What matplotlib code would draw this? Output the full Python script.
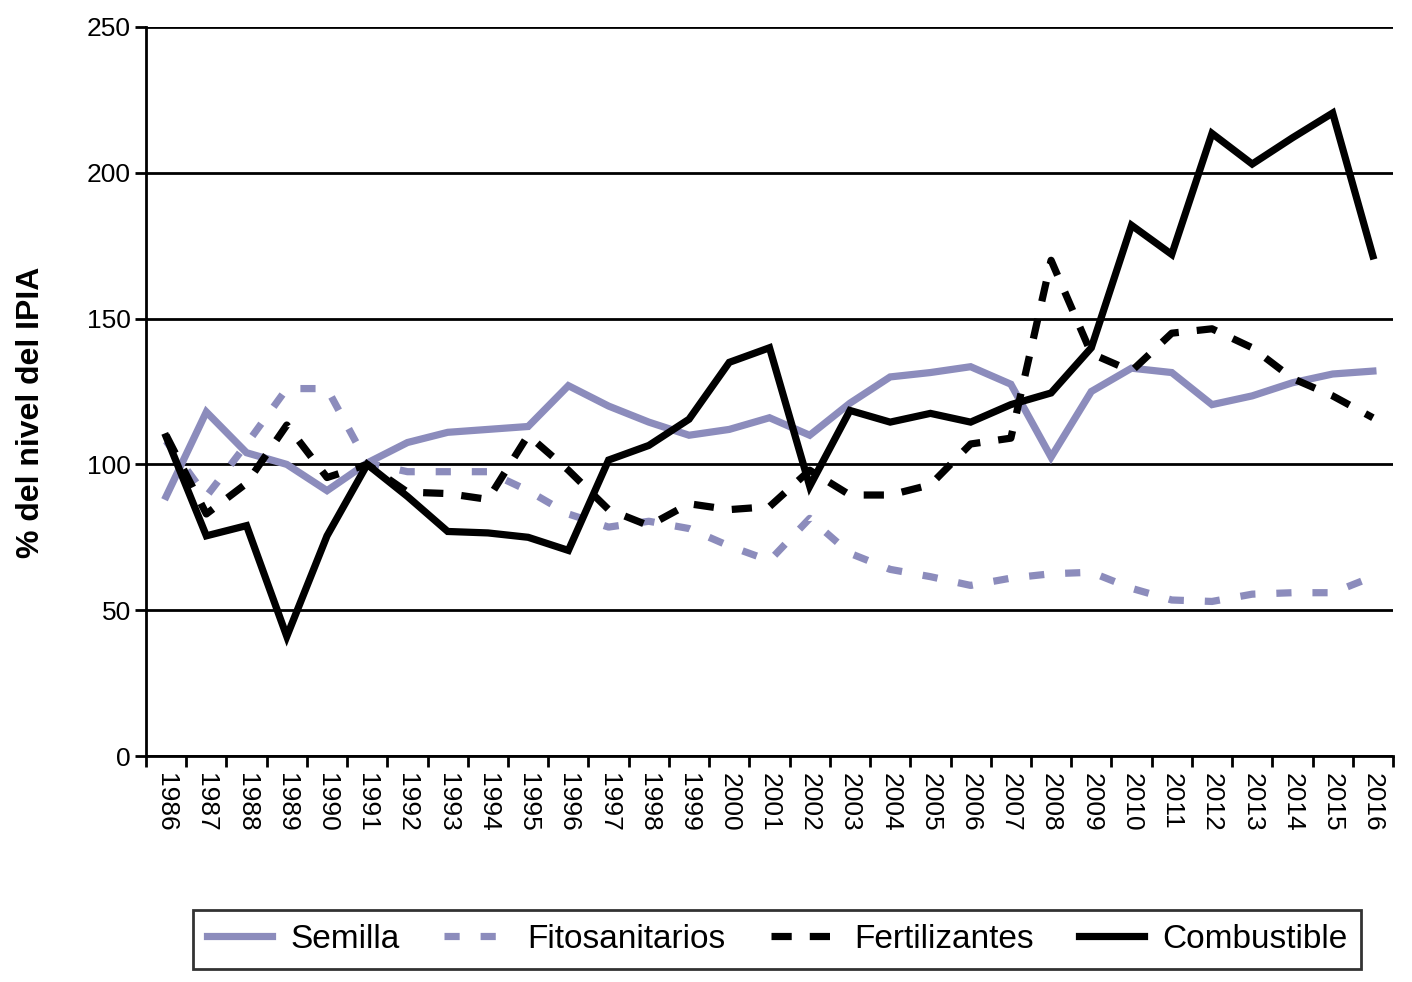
import matplotlib
matplotlib.use("Agg")
import matplotlib.pyplot as plt
import numpy as np

# ── Data ─────────────────────────────────────────────────────────────────
YEARS = [str(y) for y in range(1986, 2017)]

SEMILLA = [89, 118, 104, 100, 91, 100.5, 107.5, 111, 112, 113, 127, 120,
           114.5, 110, 112, 116, 110, 121, 130, 131.5, 133.5, 127.5,
           102.5, 125, 133, 131.5, 120.5, 123.5, 128, 131, 132]
FITOSANITARIOS = [108, 89, 107, 126, 126, 100.5, 97.5, 97.5, 97.5, 91, 83, 78.5,
                  80.5, 78, 72, 67, 81.5, 69.5, 64, 61.5, 58.5, 61,
                  62.5, 63, 57.5, 53.5, 53, 55.5, 56, 56, 61.5]
FERTILIZANTES = [110, 83, 93.5, 113.5, 95.5, 100, 90.5, 90, 88, 110, 98, 84.5,
                 79, 86.5, 84.5, 85.5, 98, 89.5, 89.5, 93, 107, 109,
                 170, 138, 132, 145, 146.5, 140, 129.5, 123.5, 116]
COMBUSTIBLE = [109.5, 75.5, 79, 41, 75.5, 100, 89, 77, 76.5, 75, 70.5, 101.5,
               106.5, 115.5, 135, 140, 92.5, 118.5, 114.5, 117.5, 114.5, 120.5,
               124.5, 140, 182, 172, 213.5, 203, 212, 220.5, 171.5]

PURPLE = "#8c8cbc"

plt.rcParams["font.family"] = ["Liberation Sans", "DejaVu Sans"]

fig = plt.figure(figsize=(14.12, 9.82), dpi=100)
ax = fig.add_axes([146 / 1412, 1 - 756 / 982, (1393 - 146) / 1412, (756 - 27) / 982])

x = np.arange(len(YEARS))
lw = 5.2
ax.plot(x, SEMILLA, color=PURPLE, lw=lw, label="Semilla", solid_joinstyle="miter")
ax.plot(x, FITOSANITARIOS, color=PURPLE, lw=lw, label="Fitosanitarios",
        dashes=(2.1, 2.9), dash_capstyle="butt")
ax.plot(x, FERTILIZANTES, color="black", lw=lw, label="Fertilizantes",
        dashes=(2.8, 2.5), dash_capstyle="butt")
ax.plot(x, COMBUSTIBLE, color="black", lw=lw, label="Combustible", solid_joinstyle="miter")

ax.set_xlim(-0.5, len(YEARS) - 0.5)
ax.set_ylim(0, 250)
ax.set_yticks(range(0, 251, 50))
ax.yaxis.grid(True, color="black", lw=2)
ax.set_axisbelow(True)

ax.set_xticks(x)
ax.set_xticklabels(YEARS, rotation=270, fontsize=19)
ax.set_xticks(np.arange(-0.5, len(YEARS), 1), minor=True)
ax.tick_params(axis="x", which="major", length=0, pad=12)
ax.tick_params(axis="x", which="minor", length=8, width=2, color="black")
ax.tick_params(axis="y", length=8, width=2, labelsize=19, pad=3)

for side in ("top", "right"):
    ax.spines[side].set_visible(False)
for side in ("left", "bottom"):
    ax.spines[side].set_linewidth(2)

ax.set_ylabel("% del nivel del IPIA", fontsize=23, fontweight="bold")
ax.yaxis.set_label_coords((46 - 146) / 1247, (756 - 412) / 729)

leg = fig.legend(loc="center", bbox_to_anchor=(777 / 1412, 1 - 939.5 / 982), ncol=4,
                 fontsize=24, frameon=True, fancybox=False, handlelength=1.95,
                 columnspacing=1.35, handletextpad=0.55, borderpad=0.42,
                 borderaxespad=0)
leg.get_frame().set_edgecolor("black")
leg.get_frame().set_linewidth(2)

fig.savefig("out.png", dpi=100)
